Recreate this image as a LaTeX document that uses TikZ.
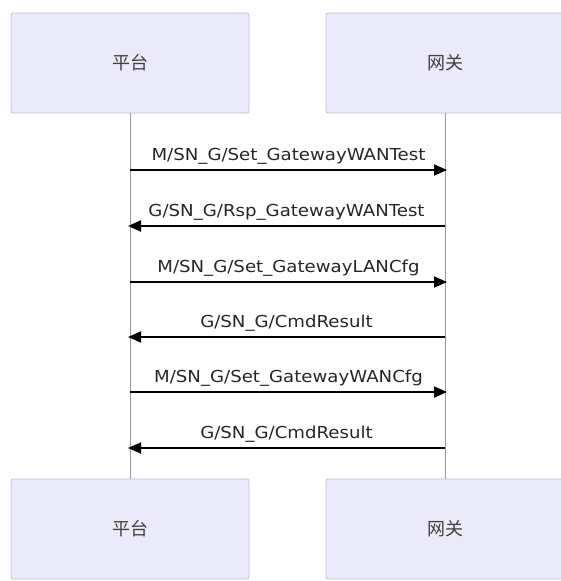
\documentclass[tikz,border=0pt]{standalone}
\usepackage{fontspec}
\usetikzlibrary{arrows.meta}
\newfontfamily\cjk{Noto Sans CJK SC}
\newfontfamily\msgfont[FakeStretch=1.1]{DejaVu Sans}
\definecolor{boxfill}{RGB}{234,234,250}
\definecolor{boxline}{RGB}{190,190,224}
\definecolor{lifegray}{RGB}{150,150,150}

\begin{document}
\begin{tikzpicture}[
		x=1pt, y=-1pt,
		actor/.style={draw=boxline, fill=boxfill, line width=0.8pt, rounded corners=2pt, minimum width=238pt, minimum height=100pt, inner sep=0pt, font=\cjk\fontsize{18}{18}\selectfont, text=black!75},
		life/.style={draw=lifegray, line width=0.8pt},
		msg/.style={-{Triangle[length=13pt, width=11pt]}, line width=1.8pt},
		lbl/.style={anchor=base, yshift=10pt, font=\msgfont\fontsize{16.5}{16.5}\selectfont, text=black!85}
		]
		\useasboundingbox (0,0) rectangle (561,581);
		\clip (0,0) rectangle (561,581);
		\node[actor] (plat) at (130,63) {平台};
		\node[actor] (gw) at (445,63) {网关};
		\node[actor] (platb) at (130,529) {平台};
		\node[actor] (gwb) at (445,529) {网关};
		
		\draw[life] (plat) -- (platb);
		\draw[life] (gw) -- (gwb);
		
		\coordinate (p1) at (130,170); \coordinate (g1) at (447,170);
		\coordinate (p2) at (128,226); \coordinate (g2) at (445,226);
		\coordinate (p3) at (130,282); \coordinate (g3) at (447,282);
		\coordinate (p4) at (128,337); \coordinate (g4) at (445,337);
		\coordinate (p5) at (130,392); \coordinate (g5) at (447,392);
		\coordinate (p6) at (128,448); \coordinate (g6) at (445,448);
		
		\draw[msg] (p1) -- node[lbl] {M/SN\_G/Set\_GatewayWANTest} (g1);
		\draw[msg] (g2) -- node[lbl] {G/SN\_G/Rsp\_GatewayWANTest} (p2);
		\draw[msg] (p3) -- node[lbl] {M/SN\_G/Set\_GatewayLANCfg} (g3);
		\draw[msg] (g4) -- node[lbl] {G/SN\_G/CmdResult} (p4);
		\draw[msg] (p5) -- node[lbl] {M/SN\_G/Set\_GatewayWANCfg} (g5);
		\draw[msg] (g6) -- node[lbl] {G/SN\_G/CmdResult} (p6);
	\end{tikzpicture}
\end{document}
